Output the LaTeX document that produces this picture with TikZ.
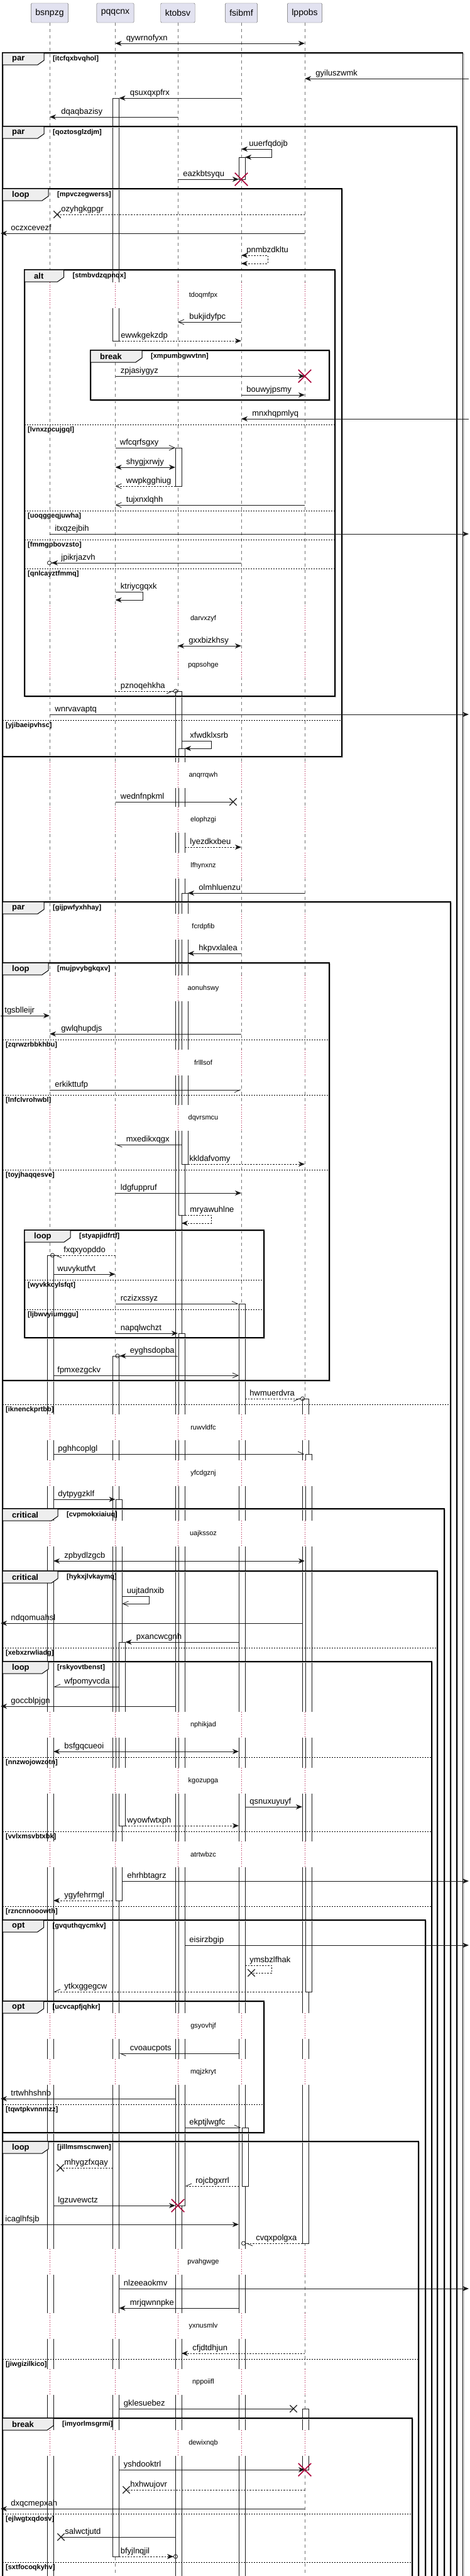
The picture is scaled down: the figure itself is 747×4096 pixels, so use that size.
\documentclass[tikz,border=0pt]{standalone}
\usepackage{fontspec}
\setmainfont{Liberation Sans}
\usetikzlibrary{arrows.meta,shapes.misc}
\pgfdeclarelayer{bg}
\pgfsetlayers{bg,main}
\definecolor{ptfill}{HTML}{E2E2F0}
\definecolor{dlred}{HTML}{A80036}
\definecolor{tabfill}{HTML}{EEEEEE}
\definecolor{lnblack}{HTML}{181818}
\newcommand{\partfont}{\fontsize{14}{16}\selectfont}
\newcommand{\msgfont}{\fontsize{13}{15}\selectfont}
\newcommand{\dlfont}{\fontsize{11}{13}\selectfont}
\newcommand{\grdfont}{\fontsize{11}{13}\selectfont\bfseries}
\newcommand{\kindfont}{\fontsize{13}{15}\selectfont\bfseries}
\tikzset{
    part/.style={draw=black!60, fill=ptfill, rounded corners=1.5pt, minimum height=31pt, inner xsep=7pt, font=\partfont},
    life/.style={draw=black!55, line width=0.5pt, dash pattern=on 5pt off 5pt},
    dlife/.style={draw=dlred, line width=0.6pt, dash pattern=on 1pt off 2.5pt},
    dltxt/.style={font=\dlfont, inner sep=0pt},
    act/.style={draw=lnblack, fill=white, line width=0.8pt},
    msg/.style={draw=lnblack, line width=0.8pt},
    dsh/.style={dash pattern=on 2.5pt off 2pt},
    tofull/.style={-{Stealth[length=10pt,width=8pt,inset=3pt]}},
    toboth/.style={{Stealth[length=10pt,width=8pt,inset=3pt]}-{Stealth[length=10pt,width=8pt,inset=3pt]}},
    toopen/.style={-{Straight Barb[length=9pt,width=8pt]}},
    tohl/.style={-{Straight Barb[left,length=9pt,width=8pt]}},
    tohr/.style={-{Straight Barb[right,length=9pt,width=8pt]}},
    tofullo/.style={-{Stealth[length=10pt,width=8pt,inset=3pt] Circle[open,length=7pt]}},
    tohlo/.style={-{Straight Barb[left,length=9pt,width=8pt] Circle[open,length=7pt]}},
    tohro/.style={-{Straight Barb[right,length=9pt,width=8pt] Circle[open,length=7pt]}},
    lostx/.style={cross out, draw=lnblack, line width=1.3pt, minimum size=10pt, inner sep=0pt},
    killx/.style={cross out, draw=dlred, line width=1.5pt, minimum size=19pt, inner sep=0pt},
    lbl/.style={font=\msgfont, inner sep=0pt, anchor=base west, yshift=5pt},
    lr/.style={lbl, at start, xshift=#1}, lr/.default=7pt,
    ll/.style={lbl, at end, xshift=#1}, ll/.default=17pt,
    lb/.style={lbl, at start, xshift=17pt},
    grp/.style={draw=black, line width=1.4pt},
    grpsh/.style={draw=black!25, line width=1pt},
    grptab/.style={draw=black, line width=1pt, fill=tabfill},
    kind/.style={font=\kindfont, anchor=west, inner sep=0pt},
    guard/.style={font=\grdfont, anchor=west, inner sep=0pt},
    sepl/.style={draw=black, line width=0.8pt, dash pattern=on 2pt off 2pt}
}
% group frame: x1, y1, x2, y2, kind, guard, tab width
\newcommand{\grp}[7]{%
    \draw[grpsh] (#1+1.5,#2+1.5) rectangle (#3+1.5,#4+1.5);
    \draw[grp] (#1,#2) rectangle (#3,#4);
    \draw[grptab] (#1,#2) -- ++(#7,0) -- ++(0,12) -- ++(-10,7) -- (#1,#2+19) -- cycle;
    \node[kind] (k#6) at (#1+15,#2+10) {#5};
    \node[guard] (g#6) at (#1+#7+14,#2+10) {[#6]};
}
% else line: x1, x2, y, guard
\newcommand{\grpsep}[4]{%
    \draw[sepl] (#1,#3) -- (#2,#3);
    \node[guard] (s#4) at (#1+5,#3+9) {[#4]};
}

\begin{document}
\begin{tikzpicture}[x=1pt, y=-1pt]
        \useasboundingbox (0,0) rectangle (747,4096);
        \node[part] (bsnpzg) at (79,20.5) {bsnpzg};
        \node[part] (pqqcnx) at (183.5,20.5) {pqqcnx};
        \node[part] (ktobsv) at (283,20.5) {ktobsv};
        \node[part] (fsibmf) at (384,20.5) {fsibmf};
        \node[part] (lppobs) at (485,20.5) {lppobs};
        \foreach \p/\n in {bs/bsnpzg,pq/pqqcnx,kt/ktobsv,fs/fsibmf,lp/lppobs} {
                \coordinate (\p) at (\n.south);
                \coordinate (\p0) at ([xshift=-4pt]\n.south);
                \coordinate (\p1) at ([xshift=1pt]\n.south);
                \coordinate (\p2) at ([xshift=6pt]\n.south);
                \coordinate (\p3) at ([xshift=11pt]\n.south);
                \coordinate (\p4) at ([xshift=16pt]\n.south);
        }
        \coordinate (lft) at (1,0);
        \coordinate (rgt) at (746,0);
        \begin{pgfonlayer}{bg}
                \foreach \p in {bs,pq,kt,fs,lp}
                        \draw[life] (\p) -- (\p |- 0,4100);
                % activations
                \draw[act] (pq0 |- 0,156) rectangle (pq2 |- 0,542);
                \draw[act] (fs0 |- 0,250) rectangle (fs2 |- 0,285);
                \draw[act] (kt0 |- 0,712) rectangle (kt2 |- 0,773);
                \draw[act] (kt0 |- 0,1099) rectangle (kt2 |- 0,4110);
                \draw[act] (kt1 |- 0,1190) rectangle (kt3 |- 0,1932);
                \draw[act] (kt2 |- 0,1420) rectangle (kt4 |- 0,1851);
                \draw[act] (bs0 |- 0,1996) rectangle (bs2 |- 0,4110);
                \draw[act] (fs0 |- 0,2073) rectangle (fs2 |- 0,4110);
                \draw[act] (kt1 |- 0,2120) rectangle (kt3 |- 0,3507);
                \draw[act] (pq0 |- 0,2156) rectangle (pq2 |- 0,4065);
                \draw[act] (lp0 |- 0,2224) rectangle (lp2 |- 0,3567);
                \draw[act] (lp1 |- 0,2312) rectangle (lp3 |- 0,3167);
                \draw[act] (pq1 |- 0,2384) rectangle (pq3 |- 0,3022);
                \draw[act] (pq2 |- 0,2611) rectangle (pq4 |- 0,2903);
                \draw[act] (fs1 |- 0,3383) rectangle (fs3 |- 0,3476);
                \draw[act] (lp0 |- 0,3830) rectangle (lp2 |- 0,3927);
                % delays
                \foreach \t/\w in {470/tdoqmfpx,984/darvxzyf,1058/pqpsohge,1233/anqrrqwh,1304/elophzgi,
                                1377/lfhynxnz,1474/fcrdpfib,1572/aonuhswy,1690/frlllsof,1778/dqvrsmcu,
                                2270/ruwvldfc,2343/yfcdgznj,2439/uajkssoz,2743/nphikjad,2832/kgozupga,
                                2949/atrtwbzc,3222/gsyovhjf,3295/mqjzkryt,3597/pvahgwge,3699/yxnusmlv,
                                3788/nppoiifl,3885/dewixnqb} {
                        \fill[white] (60,\t-21) rectangle (505,\t+20);
                        \foreach \p in {bs,pq,kt,fs,lp}
                                \draw[dlife] (\p |- 0,\t-21) -- (\p |- 0,\t+20);
                        \node[dltxt] (dl\t) at (323.5,\t) {\w};
                }
        \end{pgfonlayer}
        % groups
        \grp{4}{84}{736.5}{4110}{par}{itcfqxbvqhol}{66}
        \grp{4}{201}{727}{4110}{par}{qoztosglzdjm}{66}
        \grp{4}{300}{544}{1203}{loop}{mpvczegwerss}{73}
        \grpsep{4}{544}{1145}{yjibaeipvhsc}
        \grp{39}{429}{533}{1107}{alt}{stmbvdzqpnqx}{62.5}
        \grpsep{39}{533}{675}{lvnxzpcujgql}
        \grpsep{39}{533}{812}{uoqggeqjuwha}
        \grpsep{39}{533}{858}{fmmgpbovzsto}
        \grpsep{39}{533}{904}{qnlcayztfmmq}
        \grp{144}{557}{524}{636}{break}{xmpumbgwvtnn}{82}
        \grp{4}{1434}{717}{4110}{par}{gijpwfyxhhay}{66}
        \grpsep{4}{717}{2233}{iknenckprtbb}
        \grp{4}{1531}{524}{2195}{loop}{mujpvybgkqxv}{73}
        \grpsep{4}{524}{1653}{zqrwzrbbkhbu}
        \grpsep{4}{524}{1741}{lnfclvrohwbl}
        \grpsep{4}{524}{1860}{toyjhaqqesve}
        \grp{39}{1956}{420}{2127}{loop}{styapjidfrtf}{73}
        \grpsep{39}{420}{2035}{wyvkkcylsfqt}
        \grpsep{39}{420}{2082}{ljbwvyiumggu}
        \grp{4}{2399}{707}{4110}{critical}{cvpmokxiaiuq}{88}
        \grp{4}{2498}{696}{4110}{critical}{hykxjlvkaymq}{88}
        \grpsep{4}{696}{2620}{xebxzrwliadg}
        \grp{4}{2642}{687}{4110}{loop}{rskyovtbenst}{73}
        \grpsep{4}{687}{2794}{nnzwojowzotn}
        \grpsep{4}{687}{2912}{vvlxmsvbtxbk}
        \grpsep{4}{687}{3031}{rzncnnooowth}
        \grp{4}{3053}{677}{4110}{opt}{gvquthqycmkv}{65.5}
        \grp{4}{3182}{420}{3391}{opt}{ucvcapfjqhkr}{65.5}
        \grpsep{4}{420}{3346}{tqwtpkvnnmzz}
        \grp{4}{3405}{666}{4110}{loop}{jillmsmscnwen}{73}
        \grpsep{4}{666}{3751}{jiwgizilkico}
        \grp{4}{3845}{656}{4110}{break}{imyorlmsgrmi}{81}
        \grpsep{4}{656}{3997}{ejlwgtxqdosv}
        \grpsep{4}{656}{4074}{sxtfocoqkyhv}
        % lost and destroy marks
        \node[lostx] (lost341) at (91,341) {};
        \node[lostx] (lost1275) at (371,1275) {};
        \node[lostx] (lost3137) at (400,3137) {};
        \node[lostx] (lost3447) at (96,3447) {};
        \node[lostx] (lost3830) at (467,3830) {};
        \node[lostx] (lost3959) at (201,3959) {};
        \node[lostx] (lost4034) at (97,4034) {};
        % messages
        \draw[msg,toboth] (pq |- 0,69) -- (lp |- 0,69) node[lb] {qywrnofyxn};
        \draw[msg,tofull] (rgt |- 0,125) -- (lp |- 0,125) node[ll] {gyiluszwmk};
        \draw[msg,tofull] (fs |- 0,156) -- (pq2 |- 0,156) node[ll] {qsuxqxpfrx};
        \draw[msg,tofull] (kt |- 0,186) -- (bs |- 0,186) node[ll=18pt] {dqaqbazisy};
        \draw[msg,toboth] (fs |- 0,237) -- node[lr=12pt] {uuerfqdojb} (432,237) -- (432,250) -- (fs2 |- 0,250);
        \draw[msg,tofull] (kt |- 0,285) -- (fs0 |- 0,285) node[lr=8pt] {eazkbtsyqu};
        \draw[msg,dsh] (lp |- 0,341) -- (lost341.center) node[ll=6pt] {ozyhgkgpgr};
        \draw[msg,tofull] (lp |- 0,371) -- (lft |- 0,371) node[ll=16pt] {oczxcevezf};
        \draw[msg,dsh,toboth] (fs |- 0,406) -- node[lr=8pt] {pnmbzdkltu} (426,406) -- (426,419) -- (fs |- 0,419);
        \draw[msg,toopen] (fs |- 0,512) -- (kt |- 0,512) node[ll=18pt] {bukjidyfpc};
        \draw[msg,dsh,tofull] (pq2 |- 0,542) -- (fs |- 0,542) node[lr=2.5pt] {ewwkgekzdp};
        \draw[msg,tofull] (pq |- 0,598) -- (lp |- 0,598) node[lr=8pt] {zpjasiygyz};
        \draw[msg,tofull] (fs |- 0,628) -- (lp |- 0,628) node[lr=8pt] {bouwyjpsmy};
        \draw[msg,tofull] (rgt |- 0,666) -- (fs |- 0,666) node[ll] {mnxhqpmlyq};
        \draw[msg,toopen] (pq |- 0,712) -- (kt0 |- 0,712) node[lr] {wfcqrfsgxy};
        \draw[msg,toboth] (pq |- 0,743) -- (kt0 |- 0,743) node[lb] {shygjxrwjy};
        \draw[msg,dsh,toopen] (kt0 |- 0,773) -- (pq |- 0,773) node[ll] {wwpkgghiug};
        \draw[msg,toopen] (lp |- 0,803) -- (pq |- 0,803) node[ll] {tujxnxlqhh};
        \draw[msg,tofull] (bs |- 0,849) -- (rgt |- 0,849) node[lr=8pt] {itxqzejbih};
        \draw[msg,tofullo] (fs |- 0,895) -- (bs0 |- 0,895) node[ll=22pt] {jpikrjazvh};
        \draw[msg,tofull] (pq |- 0,941) -- node[lr=8pt] {ktriycgqxk} (227,941) -- (227,954) -- (pq |- 0,954);
        \draw[msg,toboth] (kt |- 0,1027) -- (fs |- 0,1027) node[lb] {gxxbizkhsy};
        \draw[msg,dsh,tohro] (pq |- 0,1099) -- (kt |- 0,1099) node[lr=8pt] {pznoqehkha};
        \draw[msg,tofull] (bs |- 0,1136) -- (rgt |- 0,1136) node[lr=8pt] {wnrvavaptq};
        \draw[msg,tofull] (kt2 |- 0,1178) -- node[lr=13pt] {xfwdklxsrb} (336,1178) -- (336,1190) -- (kt3 |- 0,1190);
        \draw[msg] (pq |- 0,1275) -- (lost1275.center) node[lr=8pt] {wednfnpkml};
        \draw[msg,dsh,tofull] (kt3 |- 0,1347) -- (fs |- 0,1347) node[lr=8pt] {lyezdkxbeu};
        \draw[msg,tofull] (lp |- 0,1420) -- (kt4 |- 0,1420) node[ll] {olmhluenzu};
        \draw[msg,tofull] (fs |- 0,1516) -- (kt4 |- 0,1516) node[ll] {hkpvxlalea};
        \draw[msg,tofull] (lft |- 0,1615) -- (bs |- 0,1615) node[lr=6pt] {tgsblleijr};
        \draw[msg,tofull] (fs |- 0,1644) -- (bs |- 0,1644) node[ll=18pt] {gwlqhupdjs};
        \draw[msg,tohr] (bs |- 0,1733) -- (fs |- 0,1733) node[lr=8pt] {erkikttufp};
        \draw[msg,tohl] (kt2 |- 0,1820) -- (pq |- 0,1820) node[ll] {mxedikxqgx};
        \draw[msg,dsh,tofull] (kt4 |- 0,1851) -- (lp |- 0,1851) node[lr=2pt] {kkldafvomy};
        \draw[msg,tofull] (pq |- 0,1897) -- (fs |- 0,1897) node[lr=8pt] {ldgfuppruf};
        \draw[msg,dsh,tofull] (kt3 |- 0,1932) -- node[lr=8pt] {mryawuhlne} (336,1932) -- (336,1945) -- (kt2 |- 0,1945);
        \draw[msg,dsh,tohlo] (pq |- 0,1996) -- (bs1 |- 0,1996) node[ll=21pt] {fxqxyopddo};
        \draw[msg,tofull] (bs2 |- 0,2026) -- (pq |- 0,2026) node[lr=6pt] {wuvykutfvt};
        \draw[msg,tohl] (pq |- 0,2073) -- (fs0 |- 0,2073) node[lr=8pt] {rczizxssyz};
        \draw[msg,tofull] (pq |- 0,2120) -- (kt |- 0,2120) node[lr=8pt] {napqlwchzt};
        \draw[msg,tofullo] (kt |- 0,2156) -- (pq |- 0,2156) node[ll=23pt] {eyghsdopba};
        \draw[msg,toopen] (bs2 |- 0,2187) -- (fs0 |- 0,2187) node[lr=6pt] {fpmxezgckv};
        \draw[msg,dsh,tohro] (fs2 |- 0,2224) -- (lp |- 0,2224) node[lr] {hwmuerdvra};
        \draw[msg,tohl] (bs2 |- 0,2312) -- (lp |- 0,2312) node[lr] {pghhcoplgl};
        \draw[msg,tofull] (bs2 |- 0,2384) -- (pq |- 0,2384) node[lr] {dytpygzklf};
        \draw[msg,toboth] (bs2 |- 0,2482) -- (lp |- 0,2482) node[lb] {zpbydlzgcb};
        \draw[msg,toopen] (pq3 |- 0,2538) -- node[lr] {uujtadnxib} (237,2538) -- (237,2550) -- (pq3 |- 0,2550);
        \draw[msg,tofull] (lp0 |- 0,2581) -- (lft |- 0,2581) node[ll=16pt] {ndqomuahsl};
        \draw[msg,tofull] (fs0 |- 0,2611) -- (pq4 |- 0,2611) node[ll] {pxancwcgnh};
        \draw[msg,tohr] (pq2 |- 0,2682) -- (bs2 |- 0,2682) node[ll] {wfpomyvcda};
        \draw[msg,tofull] (kt0 |- 0,2713) -- (lft |- 0,2713) node[ll=16pt] {goccblpjgn};
        \draw[msg,toboth] (bs2 |- 0,2785) -- (fs0 |- 0,2785) node[lb] {bsfgqcueoi};
        \draw[msg,tofull] (fs2 |- 0,2873) -- (lp0 |- 0,2873) node[lr] {qsnuxuyuyf};
        \draw[msg,dsh,tofull] (pq4 |- 0,2903) -- (fs0 |- 0,2903) node[lr=2.5pt] {wyowfwtxph};
        \draw[msg,tofull] (pq3 |- 0,2991) -- (rgt |- 0,2991) node[lr=7.5pt] {ehrhbtagrz};
        \draw[msg,dsh,tofull] (pq0 |- 0,3022) -- (bs2 |- 0,3022) node[ll] {ygyfehrmgl};
        \draw[msg,tofull] (kt3 |- 0,3093) -- (rgt |- 0,3093) node[lr] {eisirzbgip};
        \draw[msg,dsh] (fs2 |- 0,3125) -- node[lr] {ymsbzlfhak} (432,3125) -- (432,3137) -- (lost3137.center);
        \draw[msg,dsh,tohr] (lp0 |- 0,3167) -- (bs2 |- 0,3167) node[ll] {ytkxggegcw};
        \draw[msg,tohl] (fs0 |- 0,3265) -- (pq2 |- 0,3265) node[ll] {cvoaucpots};
        \draw[msg,tofull] (kt0 |- 0,3337) -- (lft |- 0,3337) node[ll=16pt] {trtwhhshnb};
        \draw[msg,tohl] (kt3 |- 0,3383) -- (fs |- 0,3383) node[lr] {ekptjlwgfc};
        \draw[msg,dsh] (pq0 |- 0,3447) -- (lost3447.center) node[ll=6pt] {mhygzfxqay};
        \draw[msg,dsh,tohr] (fs0 |- 0,3476) -- (kt3 |- 0,3476) node[ll] {rojcbgxrrl};
        \draw[msg,tofull] (bs2 |- 0,3507) -- (kt0 |- 0,3507) node[lr] {lgzuvewctz};
        \draw[msg,tofull] (lft |- 0,3537) -- (fs0 |- 0,3537) node[lr] {icaglhfsjb};
        \draw[msg,dsh,tohlo] (lp0 |- 0,3567) -- (fs |- 0,3567) node[ll=23pt] {cvqxpolgxa};
        \draw[msg,tofull] (pq2 |- 0,3639) -- (rgt |- 0,3639) node[lr] {nlzeeaokmv};
        \draw[msg,tofull] (fs0 |- 0,3670) -- (pq2 |- 0,3670) node[ll] {mrjqwnnpke};
        \draw[msg,dsh,tofull] (lp |- 0,3742) -- (kt2 |- 0,3742) node[ll] {cfjdtdhjun};
        \draw[msg] (pq2 |- 0,3830) -- (lost3830.center) node[lr] {gklesuebez};
        \draw[msg,tofull] (pq2 |- 0,3927) -- (lp |- 0,3927) node[lr] {yshdooktrl};
        \draw[msg,dsh] (lp |- 0,3959) -- (lost3959.center) node[ll=6pt] {hxhwujovr};
        \draw[msg,tofull] (lp |- 0,3989) -- (lft |- 0,3989) node[ll=16pt] {dxqcmepxah};
        \draw[msg] (kt0 |- 0,4034) -- (lost4034.center) node[ll=6pt] {salwctjutd};
        \draw[msg,dsh,tofullo] (pq2 |- 0,4065) -- (kt |- 0,4065) node[lr=2pt] {bfyjlnqjil};
        % destroyed lifelines
        \node[killx] (kill285) at (fs |- 0,285) {};
        \node[killx] (kill598) at (lp |- 0,598) {};
        \node[killx] (kill3507) at (kt |- 0,3507) {};
        \node[killx] (kill3927) at (lp |- 0,3927) {};
\end{tikzpicture}
\end{document}
